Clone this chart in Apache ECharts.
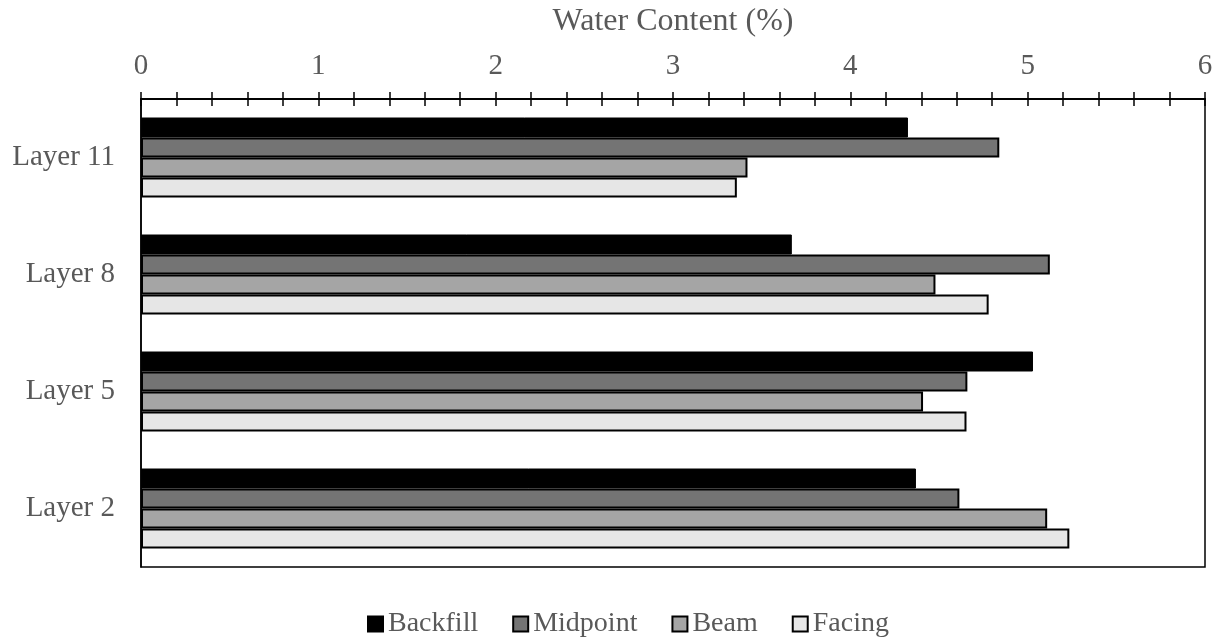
<!DOCTYPE html>
<html>
<head>
<meta charset="utf-8">
<script src="https://cdn.jsdelivr.net/npm/echarts@6/dist/echarts.min.js"></script>
<style>
html,body{margin:0;padding:0;background:#fff;}
#chart{width:1223px;height:637px;}
</style>
</head>
<body>
<div id="chart"></div>
<script>
const categories = ['Layer 11', 'Layer 8', 'Layer 5', 'Layer 2'];
const seriesNames = ['Backfill', 'Midpoint', 'Beam', 'Facing'];
const backfill = [4.325, 3.67, 5.03, 4.37];
const midpoint = [4.84, 5.125, 4.66, 4.615];
const beam = [3.42, 4.48, 4.41, 5.11];
const facing = [3.36, 4.78, 4.655, 5.235];
const xTicks = [0, 1, 2, 3, 4, 5, 6];

const colors = ['#000000', '#747474', '#a5a5a5', '#e6e6e6'];
const values = [backfill, midpoint, beam, facing];
const FONT = 'Liberation Serif';
const TXT = '#595959';

const chart = echarts.init(document.getElementById('chart'));
const baseX = {
  type: 'value', position: 'top', min: xTicks[0], max: xTicks[xTicks.length - 1], interval: 1,
  splitLine: {show: false},
  axisLine: {show: true, lineStyle: {color: '#000', width: 1.5}}
};
chart.setOption({
  animation: false,
  grid: {left: 141, right: 18, top: 99, bottom: 70, show: true, borderColor: '#000', borderWidth: 1.5, containLabel: false},
  legend: {
    data: seriesNames, top: 605, left: 362, icon: 'rect', itemWidth: 15, itemHeight: 15, itemGap: 34,
    textStyle: {fontFamily: FONT, fontSize: 28, color: TXT}
  },
  xAxis: [
    Object.assign({}, baseX, {
      name: 'Water Content (%)', nameLocation: 'middle', nameGap: 61,
      nameTextStyle: {fontFamily: FONT, fontSize: 32, color: TXT},
      axisLabel: {fontFamily: FONT, fontSize: 29, color: TXT, margin: 18},
      axisTick: {show: true, inside: false, length: 7, lineStyle: {color: '#000', width: 1.5}},
      minorTick: {show: true, splitNumber: 5, length: 7, lineStyle: {color: '#000', width: 1.5}}
    }),
    Object.assign({}, baseX, {
      axisLabel: {show: false},
      axisTick: {show: true, inside: true, length: 7, lineStyle: {color: '#000', width: 1.5}},
      minorTick: {show: true, splitNumber: 5, length: 7, lineStyle: {color: '#000', width: 1.5}}
    })
  ],
  yAxis: {
    type: 'category', data: categories, inverse: true,
    axisTick: {show: false},
    axisLine: {show: true, lineStyle: {color: '#000', width: 1.5}},
    axisLabel: {fontFamily: FONT, fontSize: 29, color: TXT, margin: 26}
  },
  series: seriesNames.map((n, i) => ({
    name: n, type: 'bar', xAxisIndex: 0, data: values[i],
    barWidth: 20, barGap: '0%',
    itemStyle: {color: colors[i], borderColor: '#000', borderWidth: i === 0 ? 1 : 2}
  }))
});
</script>
</body>
</html>
